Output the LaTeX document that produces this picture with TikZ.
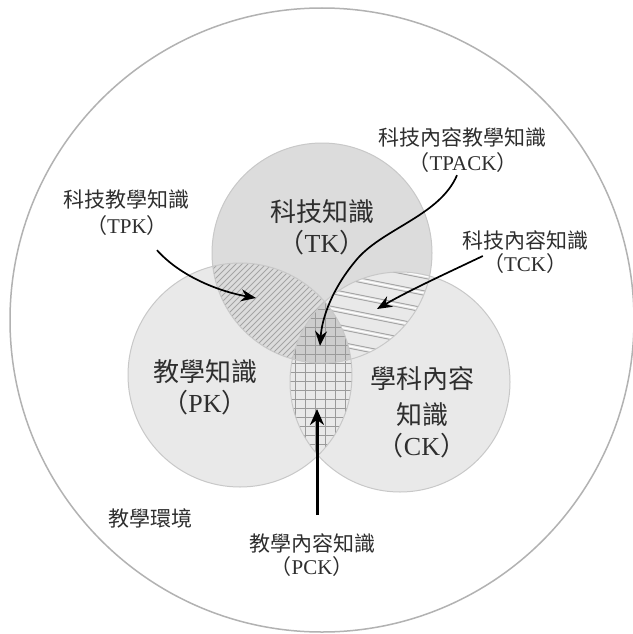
\documentclass[tikz,border=0pt]{standalone}
\usepackage{fontspec}
\setmainfont{Liberation Serif}
\newfontfamily\cjk{Noto Sans CJK TC}
\usetikzlibrary{arrows.meta}
\definecolor{tkfill}{HTML}{DCDCDC}
\definecolor{pkfill}{HTML}{E9E9E9}
\definecolor{ctrfill}{HTML}{CDCDCD}
\definecolor{circline}{HTML}{C8C8C8}
\definecolor{outerline}{HTML}{B2B2B2}
\definecolor{hatchcol}{HTML}{A4A4A4}
\definecolor{gridcol}{HTML}{9A9A9A}
\definecolor{txt}{HTML}{2E2E2E}
\newcommand\mainsz{\fontsize{26}{30}\selectfont}
\newcommand\smallsz{\fontsize{21}{24}\selectfont}
\newcommand\cpar[1]{{\cjk （}#1{\cjk ）}}
\begin{document}
\begin{tikzpicture}[x=1pt,y=-1pt,
  lbl/.style={inner sep=0pt, text=txt, font=\smallsz},
  mainlbl/.style={inner sep=0pt, text=txt, font=\mainsz},
  arr/.style={line width=1.7pt, -{Stealth[length=15pt,width=12pt]}},
  thickarr/.style={line width=3pt, -{Stealth[length=16pt,width=14pt]}},
  hatchline/.style={hatchcol, line width=0.8pt},
  stripegrey/.style={hatchcol, line width=0.9pt},
  stripewhite/.style={white, line width=1.1pt},
  gridline/.style={gridcol, line width=1pt},
  circedge/.style={circline, line width=1pt}]
\useasboundingbox (0,0) rectangle (632,634);
\fill[white] (0,0) rectangle (632,634);
% teaching environment
\draw[outerline, line width=1.5pt] (322,320) circle[radius=312pt];
% three circles
\fill[pkfill] (240,375) circle[radius=112pt];
\fill[tkfill] (322,253) circle[radius=110pt];
\fill[pkfill] (400,382) circle[radius=110pt];
% TPK hatch
\begin{scope}
  \clip (322,253) circle[radius=110pt];
  \clip (240,375) circle[radius=112pt];
  \foreach \a in {200,206,...,760} \draw[hatchline] (\a,150) -- (\a-300,450);
\end{scope}
% TCK stripes
\begin{scope}
  \clip (322,253) circle[radius=110pt];
  \clip (400,382) circle[radius=110pt];
  \foreach \b in {194,211,...,400} {
    \draw[stripegrey] (280,\b) -- (450,\b+34);
    \draw[stripewhite] (280,\b+2.2) -- (450,\b+36.2);
    \draw[stripegrey] (280,\b+4.4) -- (450,\b+38.4);
  }
\end{scope}
% centre (TPACK)
\begin{scope}
  \clip (322,253) circle[radius=110pt];
  \clip (240,375) circle[radius=112pt];
  \clip (400,382) circle[radius=110pt];
  \fill[ctrfill] (250,250) rectangle (400,400);
\end{scope}
% PCK grid
\begin{scope}
  \clip (240,375) circle[radius=112pt];
  \clip (400,382) circle[radius=110pt];
  \foreach \x in {285,295,...,360} \draw[gridline] (\x,260) -- (\x,500);
  \foreach \y in {264,273,...,500} \draw[gridline] (270,\y) -- (370,\y);
\end{scope}
% dots in centre
\begin{scope}
  \clip (322,253) circle[radius=110pt];
  \clip (240,375) circle[radius=112pt];
  \clip (400,382) circle[radius=110pt];
  \foreach \x in {290,300,...,360} \foreach \y in {268.5,277.5,...,370}
    \fill[white!50!gridcol] (\x,\y) circle[radius=0.9pt];
\end{scope}
% outlines
\draw[circedge] (240,375) circle[radius=112pt];
\draw[circedge] (322,253) circle[radius=110pt];
\draw[circedge] (400,382) circle[radius=110pt];
% labels
\node[mainlbl] (tk1) at (322,212) {\cjk 科技知識};
\node[mainlbl] (tk2) at (322,243) {\cpar{TK}};
\node[mainlbl] (pk1) at (205,372) {\cjk 教學知識};
\node[mainlbl] (pk2) at (205,403) {\cpar{PK}};
\node[mainlbl] (ck1) at (422,379) {\cjk 學科內容};
\node[mainlbl] (ck2) at (422,415) {\cjk 知識};
\node[mainlbl] (ck3) at (422,446) {\cpar{CK}};
\node[lbl] (tpk1) at (126,200) {\cjk 科技教學知識};
\node[lbl] (tpk2) at (127,226) {\cpar{TPK}};
\node[lbl] (tpack1) at (462,137) {\cjk 科技內容教學知識};
\node[lbl] (tpack2) at (463,163) {\cpar{TPACK}};
\node[lbl] (tck1) at (525,240) {\cjk 科技內容知識};
\node[lbl] (tck2) at (525,264) {\cpar{TCK}};
\node[lbl] (env) at (150,518) {\cjk 教學環境};
\node[lbl] (pck1) at (312,543) {\cjk 教學內容知識};
\node[lbl] (pck2) at (312,567) {\cpar{PCK}};
% arrow tips
\coordinate (tpkT) at (256,298);
\coordinate (tpackT) at (320,346);
\coordinate (tckT) at (377,309);
\coordinate (pckT) at (317,409);
% arrows
\draw[arr] ([shift={(30pt,-14pt)}]tpk2.south) .. controls (182,278) and (222,292) .. (tpkT);
\draw[arr] ([shift={(-6pt,-2pt)}]tpack2.south) .. controls (440,215) and (385,228) .. (358,258)
  .. controls (332,288) and (322,318) .. (tpackT);
\draw[arr] ([shift={(0pt,8pt)}]tck2.west) .. controls (445,274) and (410,290) .. (tckT);
\draw[thickarr] ([shift={(5pt,18pt)}]pck1.north) -- (pckT);
\end{tikzpicture}
\end{document}
